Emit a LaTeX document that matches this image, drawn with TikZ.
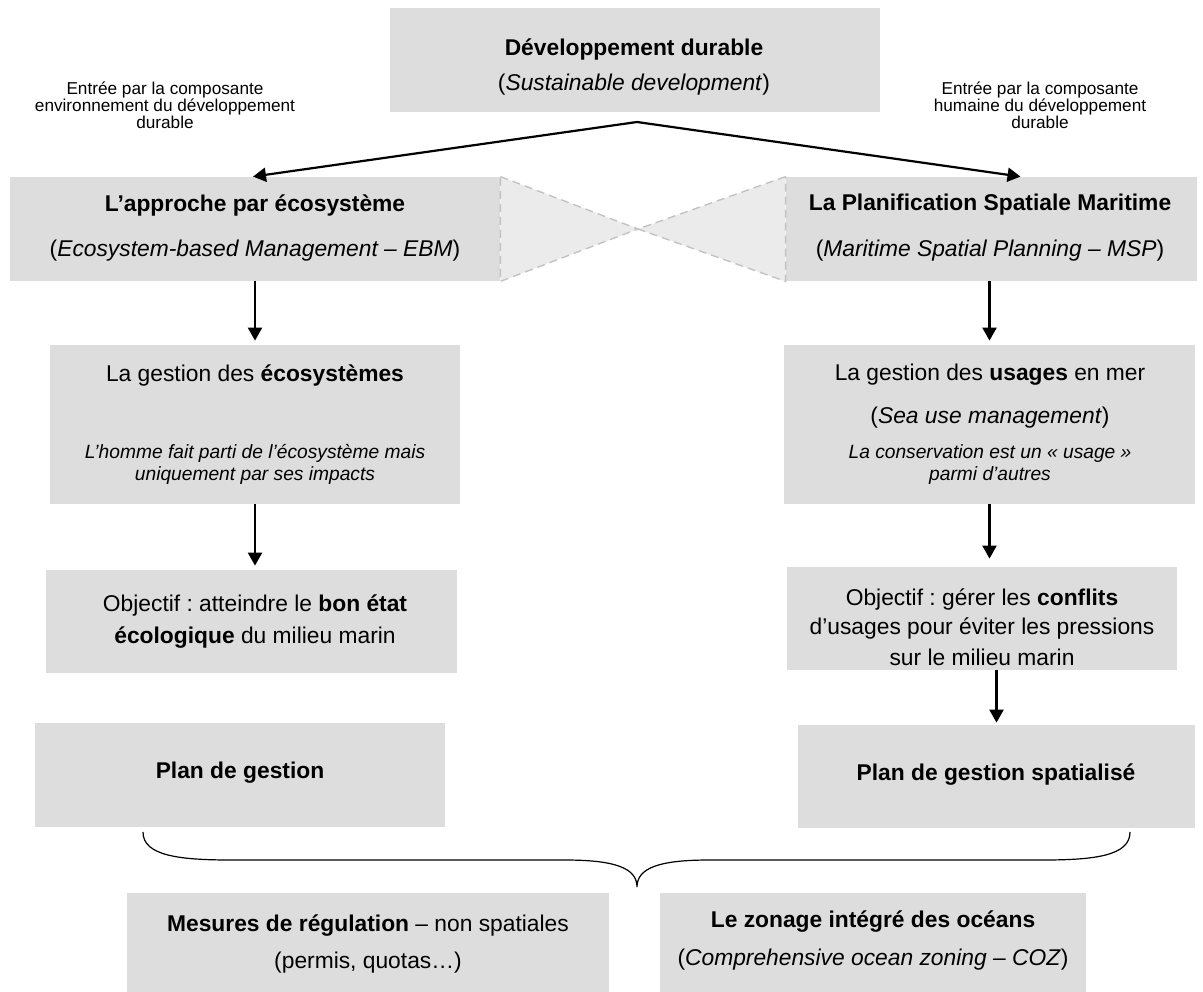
\documentclass[tikz,border=0pt]{standalone}
\usepackage{fontspec}
\setmainfont{Liberation Sans}
\usetikzlibrary{arrows.meta,fit}
\definecolor{boxgray}{RGB}{221,221,221}
\definecolor{tiegray}{RGB}{235,235,235}
\definecolor{tieline}{RGB}{195,195,195}
\newcommand\fmain{\fontsize{11.4}{13.7}\selectfont}
\newcommand\fital{\fontsize{9.6}{11}\selectfont\itshape}
\newcommand\flab{\fontsize{8.6}{8.6}\selectfont}
\frenchspacing
\begin{document}
\begin{tikzpicture}[x=0.5pt,y=-0.5pt,
  box/.style={fill=boxgray, draw=none, inner sep=0pt},
  tmain/.style={font=\fmain, inner sep=0pt, align=center},
  tital/.style={font=\fital, inner sep=0pt, align=center},
  tlab/.style={font=\flab, inner sep=0pt, align=center},
  arr/.style={-{Triangle[length=6.5pt,width=7pt]}, line width=1.1pt, black},
  tie/.style={fill=tiegray, draw=tieline, line width=0.7pt, dash pattern=on 4pt off 2.5pt},
  bracepath/.style={line width=0.6pt, black}]
\useasboundingbox (0,0) rectangle (1203,991);

% boxes
\node[box, fit={(390,8)(880,112)}] (b0) {};
\node[box, fit={(10,177)(500,281)}] (bL) {};
\node[box, fit={(786,177)(1197,281)}] (bR) {};
\node[box, fit={(50,345)(460,504)}] (bL2) {};
\node[box, fit={(784,345)(1195,504)}] (bR2) {};
\node[box, fit={(46,570)(457,673)}] (bL3) {};
\node[box, fit={(787,567)(1177,670)}] (bR3) {};
\node[box, fit={(35,723)(445,827)}] (bL4) {};
\node[box, fit={(798,725)(1195,828)}] (bR4) {};
\node[box, fit={(127,893)(609,995)}] (bB1) {};
\node[box, fit={(660,893)(1086,995)}] (bB2) {};

% bow tie between the two approaches
\coordinate (tiec) at (638,229);
\path[tie] (bL.north east) -- (tiec) -- (bL.south east) -- cycle;
\path[tie] (bR.north west) -- (tiec) -- (bR.south west) -- cycle;

% texts
\node[tmain] (t0a) at (634,50) {\textbf{Développement durable}};
\node[tmain] (t0b) at (634,85) {(\textit{Sustainable development})};

\node[tlab] (labL) at (165,105) {Entrée par la composante\\environnement du développement\\durable};
\node[tlab] (labR) at (1040,105) {Entrée par la composante\\humaine du développement\\durable};

\node[tmain] (tLa) at (255,205) {\textbf{L’approche par écosystème}};
\node[tmain] (tLb) at (255,251) {(\textit{Ecosystem-based Management – EBM})};
\node[tmain] (tRa) at (990,205) {\textbf{La Planification Spatiale Maritime}};
\node[tmain] (tRb) at (990,251) {(\textit{Maritime Spatial Planning – MSP})};

\node[tmain] (tL2a) at (255,375) {La gestion des \textbf{écosystèmes}};
\node[tital] (tL2b) at (255,464) {L’homme fait parti de l’écosystème mais\\uniquement par ses impacts};

\node[tmain] (tR2a) at (990,375) {La gestion des \textbf{usages} en mer};
\node[tmain] (tR2b) at (990,418) {(\textit{Sea use management})};
\node[tital] (tR2c) at (990,465) {La conservation est un «~usage~»\\parmi d’autres};

\node[tmain] (tL3a) at (255,605) {Objectif : atteindre le \textbf{bon état}};
\node[tmain] (tL3b) at (255,638) {\textbf{écologique} du milieu marin};

\node[tmain] (tR3a) at (982,599) {Objectif : gérer les \textbf{conflits}};
\node[tmain] (tR3b) at (982,628) {d’usages pour éviter les pressions};
\node[tmain] (tR3c) at (982,657) {sur le milieu marin};

\node[tmain] (tL4) at (240,773) {\textbf{Plan de gestion}};
\node[tmain] (tR4) at (996,775) {\textbf{Plan de gestion spatialisé}};

\node[tmain] (tB1a) at (368,926) {\textbf{Mesures de régulation} – non spatiales};
\node[tmain] (tB1b) at (368,963) {(permis, quotas…)};
\node[tmain] (tB2a) at (873,922) {\textbf{Le zonage intégré des océans}};
\node[tmain] (tB2b) at (873,960) {(\textit{Comprehensive ocean zoning – COZ})};

% connectors
\coordinate (apex) at (637,122);
\draw[arr] (apex) -- ([xshift=-1pt]bL.north);
\draw[arr] (apex) -- ([xshift=14.5pt]bR.north);
\draw[arr, shorten >=2pt] (bL.south) -- (bL2.north);
\draw[arr, shorten >=2pt] (bR.south -| bR2.north) -- (bR2.north);
\draw[arr, shorten >=2pt] (bL2.south) -- (bL2.south |- bL3.north);
\draw[arr, shorten >=4pt] (bR2.south) -- (bR2.south |- bR3.north);
\draw[arr, shorten >=1pt] (bR3.south -| bR4.north) -- (bR4.north);

% brace
\coordinate (brL) at (143,832);
\coordinate (brR) at (1130,832);
\coordinate (brTip) at (637,887);
\draw[bracepath] (brL) .. controls (143,856) and (180,860) .. (232,860)
  -- (565,860) .. controls (615,860) and (637,868) .. (brTip)
  .. controls (637,868) and (659,860) .. (709,860)
  -- (1042,860) .. controls (1094,860) and (1130,856) .. (brR);
\end{tikzpicture}
\end{document}
